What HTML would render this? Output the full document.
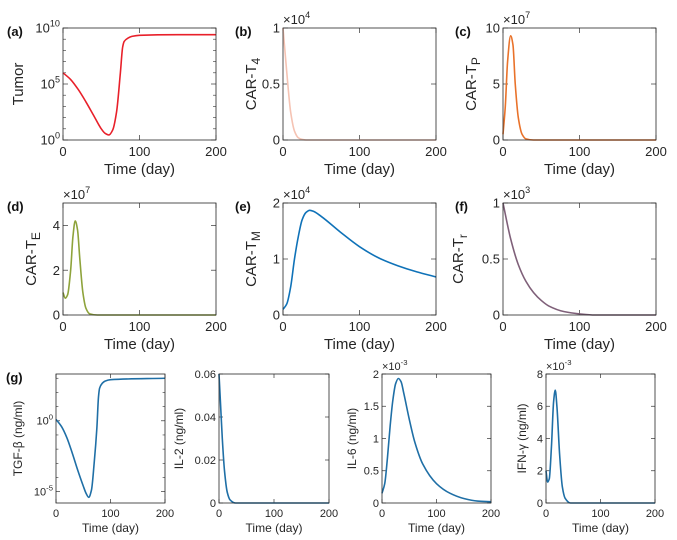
<!DOCTYPE html>
<html><head><meta charset="utf-8"><style>
body{margin:0;background:#fff}
svg{font-family:"Liberation Sans",sans-serif;display:block}
</style></head><body>
<svg id="fig" width="677" height="540" viewBox="0 0 677 540"></svg>
<script>
// Data arrays (time in days)
const tA=[0,10,20,30,40,50,55,60,65,70,75,78,80,85,90,100,150,200];
const vA=[6.0,5.4,4.5,3.4,2.2,1.0,0.6,0.45,0.9,2.5,6,8.3,8.8,9.1,9.25,9.35,9.4,9.4]; // log10 tumor
const tB=[0,5,10,15,20,25,30,200];
const vB=[1,0.6,0.25,0.08,0.02,0.005,0,0];
const tC=[0,3,6,10,13,16,20,25,30,40,200];
const vC=[0.5,3,7,9.3,8.5,5,2,0.5,0.1,0,0];
const tD=[0,3,6,10,13,16,19,22,26,30,35,45,200];
const vD=[1.0,0.75,0.9,2,3.5,4.2,3.8,2.5,1,0.3,0.05,0,0];
const tE=[0,5,10,15,20,25,30,35,40,50,75,100,125,150,175,200];
const vE=[0.1,0.2,0.5,1.0,1.4,1.7,1.83,1.87,1.85,1.76,1.48,1.22,1.02,0.88,0.77,0.68];
const tF=[0,10,20,30,40,50,60,80,100,120,200];
const vF=[1,0.68,0.45,0.3,0.2,0.13,0.08,0.03,0.01,0,0];
const tG=[0,10,20,30,40,50,55,60,65,70,75,78,80,85,90,100,200];
const vG=[0.1,-0.4,-1.2,-2.3,-3.5,-4.6,-5.1,-5.4,-4.9,-3,-0.5,1.7,2.3,2.65,2.8,2.9,3.0]; // log10
const tH=[0,3,6,10,15,20,30,200];
const vH=[0.06,0.045,0.03,0.015,0.005,0.0015,0,0];
const tI=[0,5,10,15,20,25,30,35,40,50,60,75,100,125,150,175,200];
const vI=[0.15,0.3,0.7,1.2,1.6,1.85,1.93,1.88,1.7,1.3,0.95,0.6,0.3,0.15,0.07,0.03,0.02];
const tJ=[0,3,6,10,14,17,20,25,30,35,45,200];
const vJ=[2,1.3,1.5,3.5,6.3,7,6,3,1,0.3,0,0];
const xTicks=[0,100,200];

const NS="http://www.w3.org/2000/svg";
const svg=document.getElementById('fig');
function el(tag,attrs,parent){const e=document.createElementNS(NS,tag);for(const k in attrs)e.setAttribute(k,attrs[k]);(parent||svg).appendChild(e);return e;}

const panels=[
 {id:'a',x0:63,x1:216,y0:28,y1:140,t:tA,v:vA,ymin:0,ymax:10,color:'#e8202a',ylab:'Tumor',sub:'',yt:[0,5,10],ytl:['10^0','10^5','10^10'],minor:[1,2,3,4,6,7,8,9],fs:13,lfs:15,exp:'',off:40,lx:-56,letter:true},
 {id:'b',x0:283,x1:436,y0:28,y1:140,t:tB,v:vB,ymin:0,ymax:1,color:'#f5c3b3',ylab:'CAR-T',sub:'4',yt:[0,0.5,1],ytl:['0','0.5','1'],fs:13,lfs:15,exp:'4',off:27,lx:-48,letter:true},
 {id:'c',x0:503,x1:656,y0:28,y1:140,t:tC,v:vC,ymin:0,ymax:10,color:'#e9722a',ylab:'CAR-T',sub:'P',yt:[0,5,10],ytl:['0','5','10'],fs:13,lfs:15,exp:'7',off:27,lx:-48,letter:true},
 {id:'d',x0:63,x1:216,y0:203,y1:315,t:tD,v:vD,ymin:0,ymax:5,color:'#8ea33b',ylab:'CAR-T',sub:'E',yt:[0,2,4],ytl:['0','2','4'],fs:13,lfs:15,exp:'7',off:27,lx:-56,letter:true},
 {id:'e',x0:283,x1:436,y0:203,y1:315,t:tE,v:vE,ymin:0,ymax:2,color:'#0f72b8',ylab:'CAR-T',sub:'M',yt:[0,1,2],ytl:['0','1','2'],fs:13,lfs:15,exp:'4',off:27,lx:-48,letter:true},
 {id:'f',x0:503,x1:656,y0:203,y1:315,t:tF,v:vF,ymin:0,ymax:1,color:'#7f6079',ylab:'CAR-T',sub:'r',yt:[0,0.5,1],ytl:['0','0.5','1'],fs:13,lfs:15,exp:'3',off:40,lx:-48,letter:true},
 {id:'g',x0:56,x1:165,y0:374,y1:503,t:tG,v:vG,ymin:-5.8,ymax:3.3,color:'#1f6fa6',ylab:'TGF-β (ng/ml)',sub:'',yt:[-5,0],ytl:['10^-5','10^0'],minor:[-4,-3,-2,-1,1,2,3],fs:11,lfs:12,exp:'',off:34,lx:-50,letter:true},
 {id:'h',x0:219,x1:329,y0:374,y1:503,t:tH,v:vH,ymin:0,ymax:0.06,color:'#1f6fa6',ylab:'IL-2 (ng/ml)',sub:'',yt:[0,0.02,0.04,0.06],ytl:['0','0.02','0.04','0.06'],fs:11,lfs:12,exp:'',off:36,lx:0,letter:false},
 {id:'i',x0:382,x1:491,y0:374,y1:503,t:tI,v:vI,ymin:0,ymax:2,color:'#1f6fa6',ylab:'IL-6 (ng/ml)',sub:'',yt:[0,0.5,1,1.5,2],ytl:['0','0.5','1','1.5','2'],fs:11,lfs:12,exp:'-3',off:26,lx:0,letter:false},
 {id:'j',x0:546,x1:655,y0:374,y1:503,t:tJ,v:vJ,ymin:0,ymax:8,color:'#1f6fa6',ylab:'IFN-γ (ng/ml)',sub:'',yt:[0,2,4,6,8],ytl:['0','2','4','6','8'],fs:11,lfs:12,exp:'-3',off:20,lx:0,letter:false}
];

function addPow(txt,base,exp,fs){
  const b=el('tspan',{},txt);b.textContent=base;
  const e=el('tspan',{dy:-fs*0.45,'font-size':fs*0.7},txt);e.textContent=exp;
}

// monotone cubic (Fritsch-Carlson) path through pixel points
function monoPath(pts){
  const n=pts.length,dx=[],m=[],tg=new Array(n);
  for(let i=0;i<n-1;i++){dx[i]=pts[i+1][0]-pts[i][0];m[i]=(pts[i+1][1]-pts[i][1])/dx[i];}
  tg[0]=m[0];tg[n-1]=m[n-2];
  for(let i=1;i<n-1;i++){
    if(m[i-1]*m[i]<=0)tg[i]=0;
    else{const w1=2*dx[i]+dx[i-1],w2=dx[i]+2*dx[i-1];tg[i]=(w1+w2)/(w1/m[i-1]+w2/m[i]);}
  }
  let d='M'+pts[0][0].toFixed(2)+','+pts[0][1].toFixed(2);
  for(let i=0;i<n-1;i++){
    const h=dx[i]/3;
    d+='C'+(pts[i][0]+h).toFixed(2)+','+(pts[i][1]+tg[i]*h).toFixed(2)+' '+(pts[i+1][0]-h).toFixed(2)+','+(pts[i+1][1]-tg[i+1]*h).toFixed(2)+' '+pts[i+1][0].toFixed(2)+','+pts[i+1][1].toFixed(2);
  }
  return d;
}

panels.forEach(p=>{
  const g=el('g',{});
  
  
  const X=t=>p.x0+(t-0)/(200-0)*(p.x1-p.x0);
  const Y=v=>p.y1-(v-p.ymin)/(p.ymax-p.ymin)*(p.y1-p.y0);
  const tl=p.fs>12?5:4;
  xTicks.forEach(t=>{
    el('line',{x1:X(t),x2:X(t),y1:p.y1,y2:p.y1-tl,stroke:'#333','stroke-width':0.7},g);
    el('line',{x1:X(t),x2:X(t),y1:p.y0,y2:p.y0+tl,stroke:'#333','stroke-width':0.7},g);
    const tx=el('text',{x:X(t),y:p.y1+p.fs+3,'font-size':p.fs,'text-anchor':'middle',fill:'#262626'},g);
    tx.textContent=t;
    
    
  });
  p.yt.forEach((v,i)=>{
    el('line',{x1:p.x0,x2:p.x0+tl,y1:Y(v),y2:Y(v),stroke:'#333','stroke-width':0.7},g);
    el('line',{x1:p.x1,x2:p.x1-tl,y1:Y(v),y2:Y(v),stroke:'#333','stroke-width':0.7},g);
    const tx=el('text',{x:p.x0-3,y:Y(v)+p.fs*0.35,'font-size':p.fs,'text-anchor':'end',fill:'#262626'},g);
    
    
    const s=p.ytl[i];
    if(s.startsWith('10^')) addPow(tx,'10',s.slice(3),p.fs); else tx.textContent=s;
  });
  (p.minor||[]).forEach(v=>{
    el('line',{x1:p.x0,x2:p.x0+tl*0.6,y1:Y(v),y2:Y(v),stroke:'#333','stroke-width':0.6},g);
    el('line',{x1:p.x1,x2:p.x1-tl*0.6,y1:Y(v),y2:Y(v),stroke:'#333','stroke-width':0.6},g);
  });
  const pts=p.t.map((t,i)=>[X(t),Y(p.v[i])]);
  const path=el('path',{d:monoPath(pts),fill:'none',stroke:p.color,'stroke-width':1.6},g);
  
  
  const box=el('rect',{x:p.x0,y:p.y0,width:p.x1-p.x0,height:p.y1-p.y0,fill:'none',stroke:'#262626','stroke-width':0.8},g);
  
  
  const xl=el('text',{x:(p.x0+p.x1)/2,y:p.y1+p.fs+p.lfs+6,'font-size':p.lfs,'text-anchor':'middle',fill:'#262626'},g);
  xl.textContent='Time (day)';
  
  
  const lx=p.x0-p.off,ly=(p.y0+p.y1)/2;
  const yl=el('text',{x:lx,y:ly,'font-size':p.lfs,'text-anchor':'middle',fill:'#262626',transform:'rotate(-90 '+lx+' '+ly+')'},g);
  
  
  const a=el('tspan',{},yl);a.textContent=p.ylab;
  if(p.sub){const s=el('tspan',{dy:4,'font-size':p.lfs*0.8},yl);s.textContent=p.sub;}
  if(p.exp){
    const ex=el('text',{x:p.x0,y:p.y0-4,'font-size':p.fs,fill:'#262626'},g);
    
    
    addPow(ex,'×10',p.exp,p.fs);
  }
  if(p.letter){
    const lt=el('text',{x:p.x0+p.lx,y:p.y0+8,'font-size':13,'font-weight':'bold',fill:'#111'},g);
    lt.textContent='('+p.id+')';
    
    
  }
});
</script>
</body></html>
